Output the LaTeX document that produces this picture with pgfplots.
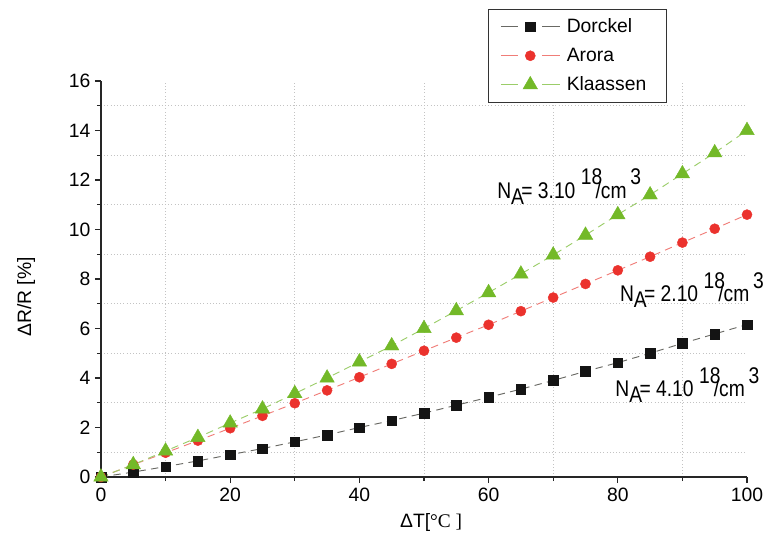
\documentclass[border=0pt]{standalone}
\usepackage{fontspec}
\setmainfont{Liberation Sans}
\newfontfamily\serifont{Liberation Serif}
\newfontfamily\annfont{Liberation Sans}[FakeStretch=0.85]
\usepackage{pgfplots}
\pgfplotsset{compat=1.18}
\definecolor{blkmark}{RGB}{20,20,20}
\definecolor{blkline}{RGB}{105,105,100}
\definecolor{redmark}{RGB}{235,50,45}
\definecolor{redline}{RGB}{240,125,120}
\definecolor{grnmark}{RGB}{115,185,40}
\definecolor{grnline}{RGB}{155,205,105}
\definecolor{gridc}{RGB}{195,195,195}
\newcommand{\NA}[1]{N\raisebox{-4.5pt}{A}\kern-2pt= #1 \raisebox{10pt}{18}\kern-5pt/cm\,\raisebox{10pt}{3}}
\begin{document}
\begin{tikzpicture}
\begin{axis}[
  scale only axis, width=484.5pt, height=297pt,
  xmin=0, xmax=100, ymin=0, ymax=16,
  axis lines=left, axis line style={-, line width=1pt, black!85},
  xtick={0,20,...,100}, minor x tick num=1,
  ytick={0,2,...,16}, minor y tick num=1,
  tick align=outside, major tick length=4.5pt, minor tick length=3pt,
  tick style={line width=1pt, black!85},
  xminorgrids, yminorgrids,
  minor grid style={gridc, dotted, line width=0.6pt},
  clip=false,
  tick label style={font=\fontsize{14.5}{16}\selectfont},
  /pgf/number format/assume math mode=true,
  xlabel={ΔT[{\serifont °C ]}},
  ylabel={ΔR/R [\%]},
  label style={font=\fontsize{14.5}{16}\selectfont},
  xlabel style={at={(0.511,-0.114)}, anchor=center},
  ylabel style={at={(-0.116,0.455)}, anchor=center},
  legend style={at={(0.599,1.182)}, anchor=north west, draw=black!80, line width=0.8pt,
    inner xsep=9pt, inner ysep=5pt, row sep=6pt, font=\fontsize{14.5}{16}\selectfont,
    nodes={inner sep=2pt}, cells={anchor=west}},
  legend image code/.code={
    \draw[#1, solid] (0pt,0pt) -- (12.75pt,0pt);
    \draw[#1, solid] (31pt,0pt) -- (44pt,0pt);
    \draw[#1] plot coordinates {(22pt,0pt)};
    \path (47pt,0pt);
  },
]
\addplot[blkline, line width=0.7pt, dash pattern=on 5.5pt off 4pt, mark=square*, mark size=3.6pt,
  mark options={solid, fill=blkmark, draw=blkmark, line width=0.3pt}] coordinates {
(0,0) (5,0.2) (10,0.42) (15,0.65) (20,0.9) (25,1.15) (30,1.42) (35,1.7) (40,2.0) (45,2.28)
(50,2.58) (55,2.9) (60,3.22) (65,3.55) (70,3.9) (75,4.27) (80,4.62) (85,5.0) (90,5.4) (95,5.78) (100,6.16)};
\addlegendentry{\makebox[64pt][l]{Dorckel}}
\addplot[redline, line width=0.7pt, dash pattern=on 5.5pt off 4pt, mark=*, mark size=3.8pt,
  mark options={solid, fill=redmark, draw=redmark, line width=0.3pt}] coordinates {
(0,0) (5,0.5) (10,0.98) (15,1.47) (20,1.97) (25,2.47) (30,2.98) (35,3.5) (40,4.03) (45,4.57)
(50,5.1) (55,5.63) (60,6.15) (65,6.7) (70,7.25) (75,7.8) (80,8.35) (85,8.9) (90,9.47) (95,10.03) (100,10.6)};
\addlegendentry{\makebox[64pt][l]{Arora}}
\addplot[grnline, line width=0.7pt, dash pattern=on 5.5pt off 4pt, mark=triangle*, mark size=6.3pt,
  mark options={solid, fill=grnmark, draw=grnmark, line width=0.3pt}] coordinates {
(0,0) (5,0.5) (10,1.05) (15,1.6) (20,2.18) (25,2.75) (30,3.37) (35,4.0) (40,4.65) (45,5.3)
(50,6.0) (55,6.72) (60,7.45) (65,8.2) (70,8.97) (75,9.77) (80,10.6) (85,11.4) (90,12.25) (95,13.1) (100,14.0)};
\addlegendentry{\makebox[64pt][l]{Klaassen}}
\node[anchor=base west, inner sep=0pt, font=\annfont\fontsize{17}{19}\selectfont] at (axis cs:61.3,11.26) {\NA{3.10}};
\node[anchor=base west, inner sep=0pt, font=\annfont\fontsize{17}{19}\selectfont] at (axis cs:80.3,7.08) {\NA{2.10}};
\node[anchor=base west, inner sep=0pt, font=\annfont\fontsize{17}{19}\selectfont] at (axis cs:79.6,3.24) {\NA{4.10}};
\path (rel axis cs:-0.1563,-0.1742) rectangle (rel axis cs:1.0325,1.2045);
\end{axis}
\end{tikzpicture}
\end{document}
